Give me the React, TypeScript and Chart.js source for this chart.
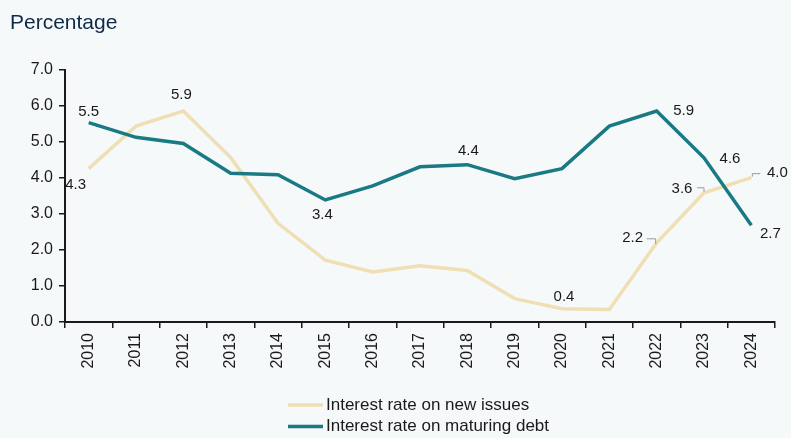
import React, { useEffect, useRef } from "react";
import { Chart, registerables } from "chart.js";

Chart.register(...registerables);

const titleText = "Percentage";
const years = ["2010", "2011", "2012", "2013", "2014", "2015", "2016", "2017", "2018", "2019", "2020", "2021", "2022", "2023", "2024"];
const newIssues = [4.26, 5.44, 5.86, 4.57, 2.74, 1.72, 1.39, 1.56, 1.43, 0.65, 0.37, 0.35, 2.2, 3.59, 4.01];
const maturingDebt = [5.54, 5.13, 4.96, 4.13, 4.09, 3.39, 3.78, 4.31, 4.37, 3.98, 4.26, 5.44, 5.86, 4.56, 2.69];
const seriesNames = ["Interest rate on new issues", "Interest rate on maturing debt"];
const yMin = 0;
const yMax = 7;
const yStep = 1;

const FONT = "'Liberation Sans', Arial, Helvetica, sans-serif";
const BEIGE = "#F0DFB4";
const TEAL = "#1A7A84";
const TEXT = "#1a1a1a";

// label placement (style only): index -> offset from point, optional leader hook
type LabelCfg = { i: number; dx: number; dy: number; hook?: number[][] };
const labelStyles: LabelCfg[][] = [
  [
    { i: 0, dx: -13, dy: 16 },
    { i: 2, dx: -2, dy: -16 },
    { i: 10, dx: 2, dy: -12 },
    { i: 12, dx: -24, dy: -5, hook: [[-10, -4], [-1, -4], [-1, 1]] },
    { i: 13, dx: -22, dy: -4, hook: [[-7, -5], [0, -5], [0, -1]] },
    { i: 14, dx: 26, dy: -5, hook: [[1, -1], [1, -4], [9, -4]] },
  ],
  [
    { i: 0, dx: 0, dy: -11 },
    { i: 5, dx: -3, dy: 15 },
    { i: 8, dx: 1, dy: -14 },
    { i: 12, dx: 27, dy: 0 },
    { i: 13, dx: 26, dy: 1 },
    { i: 14, dx: 19, dy: 9 },
  ],
];

const customPlugin = {
  id: "custom",
  beforeDraw(chart: any) {
    const ctx = chart.ctx;
    ctx.save();
    ctx.fillStyle = "#F5F9FA";
    ctx.fillRect(0, 0, chart.width, chart.height);
    ctx.fillStyle = "#0E2A47";
    ctx.font = `21px ${FONT}`;
    ctx.textAlign = "left";
    ctx.textBaseline = "middle";
    ctx.fillText(titleText, 10, 23);
    ctx.restore();
  },
  afterDatasetsDraw(chart: any) {
    const ctx = chart.ctx;
    ctx.save();
    ctx.font = `15px ${FONT}`;
    ctx.fillStyle = TEXT;
    ctx.textAlign = "center";
    ctx.textBaseline = "middle";
    chart.data.datasets.forEach((ds: any, di: number) => {
      const meta = chart.getDatasetMeta(di);
      labelStyles[di].forEach((cfg) => {
        const el = meta.data[cfg.i];
        if (!el) return;
        const v = ds.data[cfg.i] as number;
        ctx.fillStyle = TEXT;
        ctx.fillText(v.toFixed(1), el.x + cfg.dx, el.y + cfg.dy);
        if (cfg.hook) {
          ctx.strokeStyle = "#9a9a9a";
          ctx.lineWidth = 1;
          ctx.beginPath();
          cfg.hook.forEach((p, k) => {
            const px = el.x + p[0];
            const py = el.y + p[1];
            if (k === 0) ctx.moveTo(px, py);
            else ctx.lineTo(px, py);
          });
          ctx.stroke();
        }
      });
    });
    ctx.restore();
  },
  afterDraw(chart: any) {
    const ctx = chart.ctx;
    ctx.save();
    ctx.font = `17px ${FONT}`;
    ctx.textAlign = "left";
    ctx.textBaseline = "middle";
    chart.data.datasets.forEach((ds: any, di: number) => {
      const y = 405 + di * 21.5;
      ctx.strokeStyle = ds.borderColor;
      ctx.lineWidth = 3.5;
      ctx.beginPath();
      ctx.moveTo(288, y);
      ctx.lineTo(323, y);
      ctx.stroke();
      ctx.fillStyle = TEXT;
      ctx.fillText(ds.label, 326, y);
    });
    ctx.restore();
  },
};

export default function App() {
  const ref = useRef<HTMLCanvasElement | null>(null);
  useEffect(() => {
    document.body.style.margin = "0";
    const canvas = ref.current;
    if (!canvas) return;
    const chart = new Chart(canvas, {
      type: "line",
      data: {
        labels: years,
        datasets: [
          {
            label: seriesNames[0],
            data: newIssues,
            borderColor: BEIGE,
            backgroundColor: BEIGE,
            borderWidth: 3.5,
            pointRadius: 0,
            tension: 0,
            order: 1,
          },
          {
            label: seriesNames[1],
            data: maturingDebt,
            borderColor: TEAL,
            backgroundColor: TEAL,
            borderWidth: 3.5,
            pointRadius: 0,
            tension: 0,
            order: 0,
          },
        ],
      },
      options: {
        responsive: false,
        animation: false,
        devicePixelRatio: 1,
        layout: { padding: { top: 70, right: 16, bottom: 56, left: 0 } },
        plugins: {
          legend: { display: false },
          title: { display: false },
          tooltip: { enabled: false },
        },
        scales: {
          x: {
            type: "category",
            offset: true,
            afterFit: (s: any) => {
              s.height = 60;
            },
            grid: {
              drawOnChartArea: false,
              drawTicks: true,
              tickLength: 6,
              color: TEXT,
              lineWidth: 1.5,
              offset: true,
            },
            border: { display: true, color: TEXT, width: 2 },
            ticks: {
              autoSkip: false,
              minRotation: 90,
              maxRotation: 90,
              padding: 5,
              color: TEXT,
              font: { family: FONT, size: 16 },
            },
          },
          y: {
            min: yMin,
            max: yMax,
            afterFit: (s: any) => {
              s.width = 65;
            },
            grid: {
              drawOnChartArea: false,
              drawTicks: true,
              tickLength: 6,
              color: TEXT,
              lineWidth: 1.5,
            },
            border: { display: true, color: TEXT, width: 2 },
            ticks: {
              stepSize: yStep,
              padding: 6,
              color: TEXT,
              font: { family: FONT, size: 16 },
              callback: (v: any) => Number(v).toFixed(1),
            },
          },
        },
      },
      plugins: [customPlugin],
    } as any);
    return () => chart.destroy();
  }, []);
  return (
    <div style={{ width: 791, height: 438 }}>
      <canvas ref={ref} width={791} height={438} style={{ display: "block" }} />
    </div>
  );
}
